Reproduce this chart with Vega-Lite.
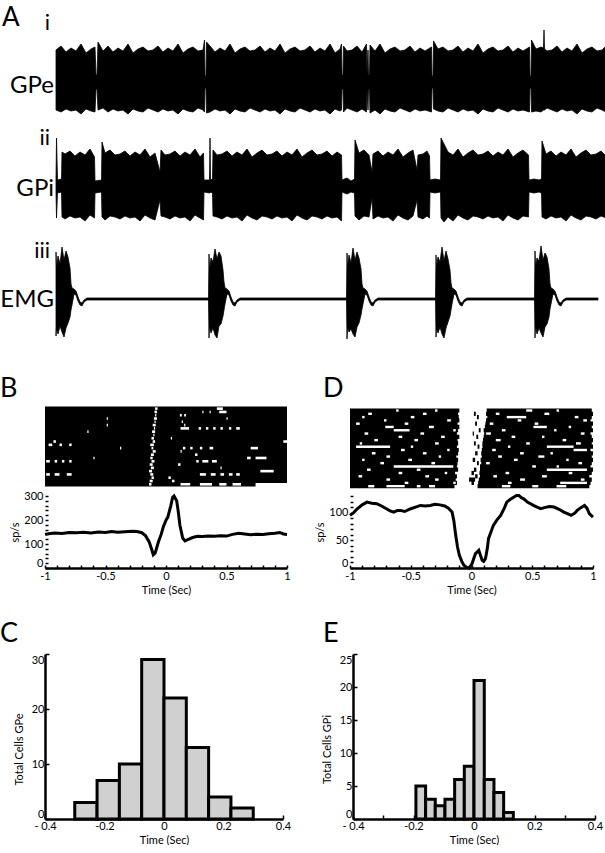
{
"$schema":"https://vega.github.io/schema/vega-lite/v6.json",
"padding":0,
"background":"white",
"config":{"view":{"stroke":null},"font":"Lato",
"axis":{"domainColor":"black","domainWidth":2.5,"tickColor":"black","tickWidth":1.5,"tickSize":-4,"labelPadding":5,"labelFont":"Lato","labelFontSize":11,"labelColor":"black","titleFont":"Lato","titleFontSize":11,"titleFontWeight":"normal","titleColor":"black","titlePadding":3,"grid":false,"labelOverlap":false,"labelFlush":false,"labelBound":false},
"title":{"font":"Lato","fontSize":27,"fontWeight":"normal","color":"black","anchor":"start","frame":"group","baseline":"alphabetic"}},
"datasets":{
"gpe":[{"t":1,"h":300,"l":240},{"t":6,"h":304,"l":238},{"t":11,"h":298,"l":241},{"t":16,"h":302,"l":239},{"t":21,"h":299,"l":240},{"t":26,"h":306,"l":236},{"t":31,"h":297,"l":241},{"t":36,"h":301,"l":239},{"t":40,"h":303,"l":238},{"t":41,"h":275,"l":261},{"t":42,"h":275,"l":261},{"t":43,"h":308,"l":240},{"t":48,"h":299,"l":242},{"t":53,"h":304,"l":238},{"t":58,"h":298,"l":241},{"t":63,"h":302,"l":239},{"t":68,"h":299,"l":240},{"t":73,"h":306,"l":236},{"t":78,"h":297,"l":241},{"t":83,"h":301,"l":239},{"t":88,"h":303,"l":238},{"t":93,"h":299,"l":242},{"t":98,"h":300,"l":240},{"t":103,"h":304,"l":238},{"t":108,"h":298,"l":241},{"t":113,"h":302,"l":239},{"t":118,"h":299,"l":240},{"t":123,"h":306,"l":236},{"t":128,"h":297,"l":241},{"t":133,"h":301,"l":239},{"t":138,"h":303,"l":238},{"t":143,"h":299,"l":242},{"t":148,"h":300,"l":240},{"t":149.5,"h":310,"l":238},{"t":150,"h":274,"l":262},{"t":151,"h":274,"l":262},{"t":151.5,"h":308,"l":237},{"t":155,"h":304,"l":238},{"t":160,"h":298,"l":241},{"t":165,"h":302,"l":239},{"t":170,"h":299,"l":240},{"t":175,"h":306,"l":236},{"t":180,"h":297,"l":241},{"t":185,"h":301,"l":239},{"t":190,"h":303,"l":238},{"t":195,"h":299,"l":242},{"t":200,"h":300,"l":240},{"t":205,"h":304,"l":238},{"t":210,"h":298,"l":241},{"t":215,"h":302,"l":239},{"t":220,"h":299,"l":240},{"t":225,"h":306,"l":236},{"t":230,"h":297,"l":241},{"t":235,"h":301,"l":239},{"t":240,"h":303,"l":238},{"t":245,"h":299,"l":242},{"t":250,"h":300,"l":240},{"t":255,"h":304,"l":238},{"t":260,"h":298,"l":241},{"t":265,"h":302,"l":239},{"t":270,"h":299,"l":240},{"t":275,"h":306,"l":236},{"t":280,"h":297,"l":241},{"t":285,"h":301,"l":239},{"t":286.5,"h":306,"l":240},{"t":287,"h":275,"l":261},{"t":288,"h":275,"l":261},{"t":288.5,"h":304,"l":238},{"t":292,"h":299,"l":242},{"t":297,"h":300,"l":240},{"t":302,"h":304,"l":238},{"t":307,"h":298,"l":241},{"t":311.5,"h":306,"l":238},{"t":312,"h":275,"l":261},{"t":313,"h":300,"l":240},{"t":313.5,"h":275,"l":261},{"t":314.5,"h":275,"l":261},{"t":315,"h":305,"l":237},{"t":320,"h":299,"l":240},{"t":325,"h":306,"l":236},{"t":330,"h":297,"l":241},{"t":335,"h":301,"l":239},{"t":340,"h":303,"l":238},{"t":345,"h":299,"l":242},{"t":350,"h":300,"l":240},{"t":355,"h":304,"l":238},{"t":360,"h":298,"l":241},{"t":365,"h":302,"l":239},{"t":370,"h":299,"l":240},{"t":376.5,"h":303,"l":238},{"t":377,"h":274,"l":262},{"t":378,"h":274,"l":262},{"t":378.5,"h":309,"l":241},{"t":383,"h":301,"l":239},{"t":388,"h":303,"l":238},{"t":393,"h":299,"l":242},{"t":398,"h":300,"l":240},{"t":403,"h":304,"l":238},{"t":408,"h":298,"l":241},{"t":413,"h":302,"l":239},{"t":418,"h":299,"l":240},{"t":423,"h":306,"l":236},{"t":428,"h":297,"l":241},{"t":433,"h":301,"l":239},{"t":438,"h":303,"l":238},{"t":443,"h":299,"l":242},{"t":448,"h":300,"l":240},{"t":453,"h":304,"l":238},{"t":458,"h":298,"l":241},{"t":463,"h":302,"l":239},{"t":468,"h":299,"l":240},{"t":474.5,"h":303,"l":238},{"t":475,"h":274,"l":262},{"t":476,"h":274,"l":262},{"t":476.5,"h":310,"l":238},{"t":481,"h":301,"l":239},{"t":486,"h":303,"l":238},{"t":488.5,"h":302,"l":240},{"t":489,"h":320,"l":240},{"t":489.5,"h":301,"l":240},{"t":492,"h":299,"l":242},{"t":497,"h":300,"l":240},{"t":502,"h":304,"l":238},{"t":507,"h":298,"l":241},{"t":512,"h":302,"l":239},{"t":517,"h":299,"l":240},{"t":522,"h":306,"l":236},{"t":527,"h":297,"l":241},{"t":532,"h":301,"l":239},{"t":537,"h":303,"l":238},{"t":542,"h":299,"l":242},{"t":547,"h":300,"l":240},{"t":551,"h":304,"l":238}],
"gpi":[{"t":1,"h":170,"l":158},{"t":1.5,"h":212,"l":132},{"t":2.5,"h":170,"l":157},{"t":6.5,"h":171,"l":158},{"t":7,"h":198,"l":133},{"t":10,"h":196,"l":131},{"t":15,"h":199,"l":134},{"t":20,"h":194,"l":132},{"t":25,"h":198,"l":133},{"t":30,"h":195,"l":129},{"t":35,"h":201,"l":135},{"t":39.5,"h":193,"l":132},{"t":40,"h":169,"l":157},{"t":46.5,"h":170,"l":158},{"t":47,"h":208,"l":133},{"t":50,"h":197,"l":130},{"t":55,"h":200,"l":134},{"t":60,"h":195,"l":133},{"t":65,"h":196,"l":131},{"t":70,"h":199,"l":134},{"t":75,"h":194,"l":132},{"t":80,"h":198,"l":133},{"t":85,"h":195,"l":129},{"t":90,"h":201,"l":135},{"t":95,"h":193,"l":132},{"t":100,"h":197,"l":130},{"t":105,"h":178,"l":150},{"t":106,"h":200,"l":134},{"t":110,"h":195,"l":133},{"t":115,"h":196,"l":131},{"t":120,"h":199,"l":134},{"t":125,"h":194,"l":132},{"t":130,"h":198,"l":133},{"t":135,"h":195,"l":129},{"t":140,"h":201,"l":135},{"t":145,"h":193,"l":132},{"t":148.5,"h":197,"l":130},{"t":149,"h":170,"l":158},{"t":154.5,"h":170,"l":157},{"t":155,"h":212,"l":157},{"t":155.5,"h":170,"l":158},{"t":157.5,"h":171,"l":157},{"t":158,"h":200,"l":134},{"t":162,"h":195,"l":133},{"t":167,"h":196,"l":131},{"t":172,"h":199,"l":134},{"t":177,"h":194,"l":132},{"t":182,"h":198,"l":133},{"t":187,"h":195,"l":129},{"t":192,"h":201,"l":135},{"t":197,"h":193,"l":132},{"t":202,"h":197,"l":130},{"t":207,"h":200,"l":134},{"t":212,"h":195,"l":133},{"t":217,"h":196,"l":131},{"t":222,"h":199,"l":134},{"t":227,"h":194,"l":132},{"t":232,"h":198,"l":133},{"t":237,"h":195,"l":129},{"t":242,"h":201,"l":135},{"t":247,"h":193,"l":132},{"t":252,"h":197,"l":130},{"t":257,"h":200,"l":134},{"t":262,"h":195,"l":133},{"t":267,"h":196,"l":131},{"t":272,"h":199,"l":134},{"t":277,"h":194,"l":132},{"t":282,"h":198,"l":133},{"t":286.5,"h":195,"l":129},{"t":287,"h":170,"l":158},{"t":292,"h":172,"l":156},{"t":296,"h":169,"l":158},{"t":299.5,"h":171,"l":157},{"t":300,"h":210,"l":134},{"t":304,"h":197,"l":130},{"t":309,"h":200,"l":134},{"t":314,"h":195,"l":133},{"t":317,"h":178,"l":152},{"t":318,"h":196,"l":131},{"t":323,"h":199,"l":134},{"t":328,"h":194,"l":132},{"t":333,"h":198,"l":133},{"t":338,"h":195,"l":129},{"t":343,"h":201,"l":135},{"t":348,"h":193,"l":132},{"t":353,"h":197,"l":130},{"t":358,"h":200,"l":134},{"t":362,"h":180,"l":150},{"t":363,"h":195,"l":133},{"t":368,"h":196,"l":131},{"t":372,"h":199,"l":134},{"t":374.5,"h":194,"l":132},{"t":375,"h":170,"l":158},{"t":380,"h":171,"l":157},{"t":385.5,"h":170,"l":158},{"t":386,"h":212,"l":132},{"t":389,"h":206,"l":128},{"t":393,"h":198,"l":133},{"t":398,"h":195,"l":129},{"t":403,"h":201,"l":135},{"t":408,"h":193,"l":132},{"t":413,"h":197,"l":130},{"t":418,"h":200,"l":134},{"t":423,"h":195,"l":133},{"t":428,"h":196,"l":131},{"t":433,"h":199,"l":134},{"t":438,"h":194,"l":132},{"t":443,"h":198,"l":133},{"t":448,"h":195,"l":129},{"t":453,"h":201,"l":135},{"t":458,"h":193,"l":132},{"t":463,"h":197,"l":130},{"t":468,"h":200,"l":134},{"t":473.5,"h":195,"l":133},{"t":474,"h":170,"l":158},{"t":479,"h":171,"l":157},{"t":484,"h":170,"l":158},{"t":486.5,"h":171,"l":157},{"t":487,"h":209,"l":133},{"t":491,"h":196,"l":131},{"t":496,"h":199,"l":134},{"t":501,"h":194,"l":132},{"t":506,"h":198,"l":133},{"t":511,"h":195,"l":129},{"t":516,"h":201,"l":135},{"t":521,"h":193,"l":132},{"t":526,"h":197,"l":130},{"t":531,"h":200,"l":134},{"t":536,"h":195,"l":133},{"t":541,"h":196,"l":131},{"t":546,"h":199,"l":134},{"t":551,"h":194,"l":132}],
"emg":[{"t":1,"h":98,"l":14},{"t":1.5,"h":82,"l":22},{"t":3,"h":94,"l":16},{"t":5,"h":86,"l":24},{"t":7,"h":103,"l":18},{"t":9,"h":90,"l":13},{"t":11,"h":99,"l":22},{"t":13,"h":93,"l":27},{"t":15,"h":82,"l":33},{"t":16,"h":66,"l":40},{"t":17,"h":62,"l":45},{"t":19,"h":61,"l":56},{"t":21,"h":59,"l":55},{"t":23,"h":53,"l":49},{"t":25,"h":48,"l":45},{"t":27,"h":47,"l":44},{"t":29,"h":50,"l":48},{"t":32,"h":52,"l":50},{"t":90,"h":52,"l":50},{"t":153.5,"h":52,"l":50},{"t":154,"h":96,"l":12},{"t":154.5,"h":80,"l":24},{"t":156,"h":92,"l":17},{"t":158,"h":88,"l":22},{"t":160,"h":101,"l":15},{"t":162,"h":91,"l":12},{"t":164,"h":98,"l":24},{"t":166,"h":94,"l":26},{"t":168,"h":80,"l":34},{"t":169,"h":68,"l":40},{"t":170,"h":62,"l":46},{"t":172,"h":61,"l":56},{"t":174,"h":59,"l":55},{"t":176,"h":53,"l":49},{"t":178,"h":48,"l":45},{"t":180,"h":47,"l":44},{"t":182,"h":50,"l":48},{"t":185,"h":52,"l":50},{"t":240,"h":52,"l":50},{"t":291.5,"h":52,"l":50},{"t":292,"h":97,"l":11},{"t":292.5,"h":82,"l":23},{"t":294,"h":95,"l":18},{"t":296,"h":87,"l":21},{"t":298,"h":102,"l":16},{"t":300,"h":90,"l":13},{"t":302,"h":98,"l":23},{"t":304,"h":92,"l":27},{"t":306,"h":81,"l":35},{"t":307,"h":66,"l":41},{"t":308,"h":62,"l":46},{"t":310,"h":61,"l":56},{"t":312,"h":59,"l":55},{"t":314,"h":53,"l":49},{"t":316,"h":48,"l":45},{"t":318,"h":47,"l":44},{"t":320,"h":50,"l":48},{"t":323,"h":52,"l":50},{"t":380.5,"h":52,"l":50},{"t":381,"h":95,"l":13},{"t":381.5,"h":83,"l":22},{"t":383,"h":93,"l":17},{"t":385,"h":88,"l":23},{"t":387,"h":103,"l":16},{"t":389,"h":89,"l":12},{"t":391,"h":99,"l":22},{"t":393,"h":91,"l":28},{"t":395,"h":80,"l":34},{"t":396,"h":67,"l":40},{"t":397,"h":62,"l":46},{"t":399,"h":61,"l":56},{"t":401,"h":59,"l":55},{"t":403,"h":53,"l":49},{"t":405,"h":48,"l":45},{"t":407,"h":47,"l":44},{"t":409,"h":50,"l":48},{"t":412,"h":52,"l":50},{"t":479.5,"h":52,"l":50},{"t":480,"h":99,"l":12},{"t":480.5,"h":84,"l":24},{"t":482,"h":92,"l":16},{"t":484,"h":89,"l":22},{"t":486,"h":104,"l":17},{"t":488,"h":90,"l":13},{"t":490,"h":97,"l":23},{"t":492,"h":93,"l":26},{"t":494,"h":81,"l":33},{"t":495,"h":66,"l":41},{"t":496,"h":62,"l":46},{"t":498,"h":61,"l":56},{"t":500,"h":59,"l":55},{"t":502,"h":53,"l":49},{"t":504,"h":48,"l":45},{"t":506,"h":47,"l":44},{"t":508,"h":50,"l":48},{"t":511,"h":52,"l":50},{"t":543,"h":52,"l":50}],
"rastB":[{"trial":1,"t":-1,"t2":1},{"trial":2,"t":-1,"t2":1},{"trial":3,"t":-1,"t2":1},{"trial":4,"t":-1,"t2":1},{"trial":5,"t":-1,"t2":1},{"trial":6,"t":-1,"t2":1},{"trial":7,"t":-1,"t2":1},{"trial":8,"t":-1,"t2":1},{"trial":9,"t":-1,"t2":1},{"trial":10,"t":-1,"t2":1},{"trial":11,"t":-1,"t2":1},{"trial":12,"t":-1,"t2":1},{"trial":13,"t":-1,"t2":1},{"trial":14,"t":-1,"t2":1},{"trial":15,"t":-1,"t2":1},{"trial":16,"t":-1,"t2":1},{"trial":17,"t":-1,"t2":1},{"trial":18,"t":-1,"t2":1},{"trial":19,"t":-1,"t2":1},{"trial":20,"t":-1,"t2":1},{"trial":21,"t":-1,"t2":1},{"trial":22,"t":-1,"t2":1},{"trial":23,"t":-1,"t2":1},{"trial":24,"t":-1,"t2":0.74}],
"gapB":[{"trial":1,"t":-0.09,"t2":-0.07},{"trial":2,"t":-0.095,"t2":-0.075},{"trial":3,"t":-0.09,"t2":-0.08},{"trial":4,"t":-0.1,"t2":-0.075},{"trial":5,"t":-0.095,"t2":-0.085},{"trial":6,"t":-0.11,"t2":-0.085},{"trial":7,"t":-0.1,"t2":-0.09},{"trial":8,"t":-0.115,"t2":-0.09},{"trial":9,"t":-0.105,"t2":-0.095},{"trial":10,"t":-0.12,"t2":-0.1},{"trial":11,"t":-0.11,"t2":-0.09},{"trial":12,"t":-0.13,"t2":-0.1},{"trial":13,"t":-0.12,"t2":-0.105},{"trial":14,"t":-0.11,"t2":-0.085},{"trial":15,"t":-0.125,"t2":-0.1},{"trial":16,"t":-0.13,"t2":-0.11},{"trial":17,"t":-0.12,"t2":-0.095},{"trial":18,"t":-0.135,"t2":-0.11},{"trial":19,"t":-0.125,"t2":-0.1},{"trial":20,"t":-0.14,"t2":-0.115},{"trial":21,"t":-0.13,"t2":-0.105},{"trial":22,"t":-0.12,"t2":-0.1},{"trial":23,"t":-0.135,"t2":-0.11},{"trial":24,"t":-0.14,"t2":-0.12},{"trial":1,"t":0.42,"t2":0.47},{"trial":2,"t":0.3,"t2":0.31},{"trial":2,"t":0.36,"t2":0.37},{"trial":2,"t":0.44,"t2":0.5},{"trial":3,"t":0.115,"t2":0.13},{"trial":3,"t":0.15,"t2":0.165},{"trial":4,"t":-0.49,"t2":-0.48},{"trial":4,"t":0.5,"t2":0.51},{"trial":5,"t":0.13,"t2":0.14},{"trial":6,"t":-0.49,"t2":-0.48},{"trial":6,"t":0.15,"t2":0.16},{"trial":7,"t":0.12,"t2":0.19},{"trial":7,"t":0.27,"t2":0.29},{"trial":7,"t":0.33,"t2":0.35},{"trial":7,"t":0.39,"t2":0.41},{"trial":7,"t":0.45,"t2":0.47},{"trial":7,"t":0.52,"t2":0.54},{"trial":7,"t":0.58,"t2":0.61},{"trial":8,"t":-0.65,"t2":-0.64},{"trial":10,"t":0.04,"t2":0.05},{"trial":11,"t":0.97,"t2":1},{"trial":11,"t":-0.93,"t2":-0.91},{"trial":12,"t":-0.97,"t2":-0.94},{"trial":12,"t":-0.88,"t2":-0.86},{"trial":12,"t":-0.8,"t2":-0.78},{"trial":13,"t":0.14,"t2":0.16},{"trial":13,"t":0.2,"t2":0.22},{"trial":13,"t":0.28,"t2":0.3},{"trial":13,"t":0.36,"t2":0.39},{"trial":13,"t":0.7,"t2":0.76},{"trial":13,"t":-0.38,"t2":-0.37},{"trial":14,"t":0.12,"t2":0.13},{"trial":15,"t":0.24,"t2":0.26},{"trial":16,"t":0.67,"t2":0.7},{"trial":16,"t":0.74,"t2":0.83},{"trial":16,"t":-0.6,"t2":-0.59},{"trial":17,"t":-0.99,"t2":-0.96},{"trial":17,"t":-0.92,"t2":-0.9},{"trial":17,"t":-0.86,"t2":-0.84},{"trial":17,"t":-0.8,"t2":-0.78},{"trial":17,"t":0.25,"t2":0.27},{"trial":17,"t":0.3,"t2":0.35},{"trial":17,"t":0.38,"t2":0.42},{"trial":18,"t":0.1,"t2":0.12},{"trial":19,"t":0.45,"t2":0.46},{"trial":20,"t":0.78,"t2":0.89},{"trial":21,"t":-0.99,"t2":-0.96},{"trial":21,"t":-0.92,"t2":-0.88},{"trial":21,"t":-0.82,"t2":-0.78},{"trial":21,"t":0.28,"t2":0.33},{"trial":21,"t":0.37,"t2":0.41},{"trial":21,"t":0.45,"t2":0.48},{"trial":21,"t":0.52,"t2":0.55},{"trial":21,"t":0.58,"t2":0.61},{"trial":22,"t":0.02,"t2":0.04},{"trial":23,"t":0.05,"t2":0.07},{"trial":24,"t":0.12,"t2":0.2},{"trial":24,"t":0.28,"t2":0.38},{"trial":24,"t":0.44,"t2":0.5},{"trial":24,"t":0.55,"t2":0.62}],
"psthB":[{"t":-1,"r":140},{"t":-0.97,"r":143},{"t":-0.92,"r":146},{"t":-0.86,"r":144},{"t":-0.8,"r":148},{"t":-0.74,"r":147},{"t":-0.68,"r":149},{"t":-0.62,"r":146},{"t":-0.56,"r":150},{"t":-0.5,"r":148},{"t":-0.45,"r":152},{"t":-0.4,"r":149},{"t":-0.34,"r":151},{"t":-0.28,"r":153},{"t":-0.24,"r":152},{"t":-0.2,"r":147},{"t":-0.17,"r":135},{"t":-0.14,"r":110},{"t":-0.12,"r":80},{"t":-0.105,"r":55},{"t":-0.09,"r":62},{"t":-0.063,"r":108},{"t":-0.04,"r":140},{"t":-0.022,"r":172},{"t":0,"r":199},{"t":0.015,"r":212},{"t":0.04,"r":260},{"t":0.055,"r":295},{"t":0.066,"r":300},{"t":0.088,"r":280},{"t":0.1,"r":240},{"t":0.115,"r":178},{"t":0.138,"r":125},{"t":0.157,"r":113},{"t":0.18,"r":118},{"t":0.22,"r":127},{"t":0.26,"r":132},{"t":0.3,"r":131},{"t":0.35,"r":133},{"t":0.4,"r":132},{"t":0.45,"r":134},{"t":0.5,"r":133},{"t":0.55,"r":140},{"t":0.6,"r":145},{"t":0.65,"r":142},{"t":0.7,"r":139},{"t":0.75,"r":141},{"t":0.8,"r":140},{"t":0.85,"r":143},{"t":0.9,"r":145},{"t":0.94,"r":148},{"t":0.97,"r":142},{"t":1,"r":140}],
"rastD":[{"trial":1,"t":-1,"t2":-0.1},{"trial":1,"t":0.125,"t2":0.99},{"trial":2,"t":-1,"t2":-0.11},{"trial":2,"t":0.12,"t2":1},{"trial":3,"t":-1,"t2":-0.105},{"trial":3,"t":0.13,"t2":0.99},{"trial":4,"t":-1,"t2":-0.1},{"trial":4,"t":0.12,"t2":0.98},{"trial":5,"t":-1,"t2":-0.115},{"trial":5,"t":0.115,"t2":1},{"trial":6,"t":-1,"t2":-0.1},{"trial":6,"t":0.11,"t2":0.99},{"trial":7,"t":-1,"t2":-0.11},{"trial":7,"t":0.1,"t2":1},{"trial":8,"t":-1,"t2":-0.12},{"trial":8,"t":0.105,"t2":0.98},{"trial":9,"t":-1,"t2":-0.1},{"trial":9,"t":0.1,"t2":0.99},{"trial":10,"t":-1,"t2":-0.115},{"trial":10,"t":0.095,"t2":1},{"trial":11,"t":-1,"t2":-0.11},{"trial":11,"t":0.09,"t2":0.99},{"trial":12,"t":-1,"t2":-0.12},{"trial":12,"t":0.09,"t2":1},{"trial":13,"t":-1,"t2":-0.105},{"trial":13,"t":0.085,"t2":0.98},{"trial":14,"t":-1,"t2":-0.11},{"trial":14,"t":0.08,"t2":1},{"trial":15,"t":-1,"t2":-0.125},{"trial":15,"t":0.085,"t2":0.99},{"trial":16,"t":-1,"t2":-0.11},{"trial":16,"t":0.075,"t2":1},{"trial":17,"t":-1,"t2":-0.115},{"trial":17,"t":0.08,"t2":0.99},{"trial":18,"t":-1,"t2":-0.12},{"trial":18,"t":0.07,"t2":0.98},{"trial":19,"t":-1,"t2":-0.11},{"trial":19,"t":0.07,"t2":1},{"trial":20,"t":-1,"t2":-0.135},{"trial":20,"t":0.065,"t2":0.99},{"trial":21,"t":-1,"t2":-0.12},{"trial":21,"t":0.07,"t2":0.97},{"trial":22,"t":-1,"t2":-0.13},{"trial":22,"t":0.06,"t2":0.99},{"trial":23,"t":-1,"t2":-0.12},{"trial":23,"t":0.055,"t2":0.98},{"trial":24,"t":-1,"t2":-0.14},{"trial":24,"t":0.05,"t2":0.97},{"trial":2,"t":0.02,"t2":0.035},{"trial":3,"t":0.045,"t2":0.06},{"trial":5,"t":0.03,"t2":0.045},{"trial":7,"t":0.06,"t2":0.075},{"trial":8,"t":0.01,"t2":0.02},{"trial":9,"t":0.04,"t2":0.055},{"trial":11,"t":0.02,"t2":0.035},{"trial":12,"t":0.05,"t2":0.065},{"trial":14,"t":0.03,"t2":0.05},{"trial":16,"t":0.01,"t2":0.03},{"trial":17,"t":0.045,"t2":0.06},{"trial":19,"t":0.02,"t2":0.04},{"trial":20,"t":0,"t2":0.02},{"trial":21,"t":0.03,"t2":0.05},{"trial":22,"t":-0.02,"t2":0.03},{"trial":23,"t":0,"t2":0.02}],
"gapD":[{"trial":1,"t":-0.62,"t2":-0.6},{"trial":1,"t":0.45,"t2":0.5},{"trial":1,"t":0.7,"t2":0.72},{"trial":1,"t":-0.3,"t2":-0.28},{"trial":2,"t":-0.85,"t2":-0.82},{"trial":2,"t":-0.4,"t2":-0.37},{"trial":2,"t":0.2,"t2":0.23},{"trial":2,"t":0.6,"t2":0.64},{"trial":3,"t":-0.5,"t2":-0.47},{"trial":3,"t":0.29,"t2":0.45},{"trial":3,"t":0.85,"t2":0.88},{"trial":3,"t":-0.9,"t2":-0.88},{"trial":4,"t":-0.72,"t2":-0.7},{"trial":4,"t":-0.2,"t2":-0.17},{"trial":4,"t":0.38,"t2":0.41},{"trial":4,"t":0.92,"t2":0.95},{"trial":5,"t":-0.95,"t2":-0.92},{"trial":5,"t":-0.55,"t2":-0.52},{"trial":5,"t":0.15,"t2":0.18},{"trial":5,"t":0.52,"t2":0.55},{"trial":6,"t":-0.71,"t2":-0.64},{"trial":6,"t":-0.35,"t2":-0.31},{"trial":6,"t":0.51,"t2":0.62},{"trial":6,"t":0.8,"t2":0.82},{"trial":7,"t":-0.64,"t2":-0.51},{"trial":7,"t":-0.15,"t2":-0.13},{"trial":7,"t":0.25,"t2":0.28},{"trial":7,"t":0.68,"t2":0.7},{"trial":8,"t":-0.88,"t2":-0.85},{"trial":8,"t":-0.42,"t2":-0.39},{"trial":8,"t":0.12,"t2":0.16},{"trial":8,"t":0.9,"t2":0.93},{"trial":9,"t":-0.6,"t2":-0.57},{"trial":9,"t":-0.25,"t2":-0.22},{"trial":9,"t":0.33,"t2":0.36},{"trial":9,"t":0.58,"t2":0.6},{"trial":10,"t":-0.8,"t2":-0.77},{"trial":10,"t":-0.47,"t2":-0.44},{"trial":10,"t":0.2,"t2":0.24},{"trial":10,"t":0.75,"t2":0.78},{"trial":11,"t":-0.92,"t2":-0.9},{"trial":11,"t":-0.3,"t2":-0.27},{"trial":11,"t":0.45,"t2":0.48},{"trial":11,"t":0.86,"t2":0.9},{"trial":12,"t":-0.95,"t2":-0.67},{"trial":12,"t":-0.5,"t2":-0.48},{"trial":12,"t":0.62,"t2":0.84},{"trial":12,"t":0.3,"t2":0.32},{"trial":13,"t":-0.58,"t2":-0.55},{"trial":13,"t":-0.2,"t2":-0.18},{"trial":13,"t":0.84,"t2":0.95},{"trial":13,"t":0.17,"t2":0.2},{"trial":14,"t":-0.82,"t2":-0.79},{"trial":14,"t":-0.4,"t2":-0.37},{"trial":14,"t":0.4,"t2":0.43},{"trial":14,"t":0.65,"t2":0.67},{"trial":15,"t":-0.7,"t2":-0.67},{"trial":15,"t":-0.27,"t2":-0.25},{"trial":15,"t":0.22,"t2":0.25},{"trial":15,"t":0.55,"t2":0.6},{"trial":16,"t":-0.9,"t2":-0.88},{"trial":16,"t":-0.52,"t2":-0.49},{"trial":16,"t":0.35,"t2":0.38},{"trial":16,"t":0.78,"t2":0.8},{"trial":17,"t":-0.75,"t2":-0.72},{"trial":17,"t":-0.33,"t2":-0.3},{"trial":17,"t":0.12,"t2":0.15},{"trial":17,"t":0.88,"t2":0.91},{"trial":18,"t":-0.64,"t2":-0.15},{"trial":18,"t":0.5,"t2":0.53},{"trial":18,"t":0.7,"t2":0.72},{"trial":19,"t":-0.86,"t2":-0.83},{"trial":19,"t":-0.45,"t2":-0.42},{"trial":19,"t":0.62,"t2":0.95},{"trial":20,"t":-0.6,"t2":-0.57},{"trial":20,"t":-0.22,"t2":-0.2},{"trial":20,"t":0.28,"t2":0.31},{"trial":20,"t":0.8,"t2":0.83},{"trial":21,"t":-0.93,"t2":-0.9},{"trial":21,"t":-0.38,"t2":-0.35},{"trial":21,"t":0.18,"t2":0.21},{"trial":21,"t":0.58,"t2":0.62},{"trial":22,"t":-0.7,"t2":-0.67},{"trial":22,"t":-0.3,"t2":-0.27},{"trial":22,"t":0.4,"t2":0.44},{"trial":22,"t":0.9,"t2":0.93},{"trial":23,"t":-0.55,"t2":-0.52},{"trial":23,"t":-0.15,"t2":-0.13},{"trial":23,"t":0.73,"t2":0.95},{"trial":23,"t":0.3,"t2":0.33},{"trial":24,"t":-0.85,"t2":-0.8},{"trial":24,"t":-0.7,"t2":-0.55},{"trial":24,"t":-0.45,"t2":-0.42},{"trial":24,"t":-0.35,"t2":-0.3},{"trial":24,"t":0.25,"t2":0.32},{"trial":24,"t":0.5,"t2":0.55},{"trial":24,"t":0.7,"t2":0.78}],
"psthD":[{"t":-1,"r":95},{"t":-0.97,"r":100},{"t":-0.94,"r":107},{"t":-0.9,"r":114},{"t":-0.86,"r":119},{"t":-0.82,"r":117},{"t":-0.78,"r":116},{"t":-0.74,"r":112},{"t":-0.7,"r":107},{"t":-0.67,"r":103},{"t":-0.64,"r":101},{"t":-0.61,"r":104},{"t":-0.585,"r":104},{"t":-0.55,"r":102},{"t":-0.5,"r":107},{"t":-0.46,"r":110},{"t":-0.42,"r":113},{"t":-0.38,"r":112},{"t":-0.34,"r":113},{"t":-0.3,"r":115},{"t":-0.26,"r":114},{"t":-0.22,"r":112},{"t":-0.19,"r":108},{"t":-0.16,"r":101},{"t":-0.145,"r":85},{"t":-0.13,"r":59},{"t":-0.115,"r":38},{"t":-0.1,"r":23},{"t":-0.08,"r":12},{"t":-0.063,"r":5},{"t":-0.04,"r":1},{"t":-0.02,"r":0},{"t":0.005,"r":8},{"t":0.02,"r":18},{"t":0.033,"r":26},{"t":0.06,"r":32},{"t":0.075,"r":22},{"t":0.088,"r":14},{"t":0.1,"r":12},{"t":0.115,"r":17},{"t":0.13,"r":35},{"t":0.14,"r":53},{"t":0.16,"r":65},{"t":0.18,"r":77},{"t":0.21,"r":87},{"t":0.24,"r":95},{"t":0.27,"r":108},{"t":0.29,"r":119},{"t":0.32,"r":124},{"t":0.35,"r":128},{"t":0.37,"r":131},{"t":0.39,"r":131},{"t":0.41,"r":127},{"t":0.43,"r":125},{"t":0.46,"r":119},{"t":0.51,"r":113},{"t":0.54,"r":110},{"t":0.57,"r":107},{"t":0.6,"r":109},{"t":0.64,"r":111},{"t":0.68,"r":110},{"t":0.72,"r":106},{"t":0.76,"r":101},{"t":0.79,"r":98},{"t":0.82,"r":95},{"t":0.85,"r":99},{"t":0.87,"r":104},{"t":0.9,"r":109},{"t":0.93,"r":113},{"t":0.95,"r":108},{"t":0.97,"r":98},{"t":1,"r":92}],
"histC":[{"a":-0.3,"b":-0.225,"n":3},{"a":-0.225,"b":-0.15,"n":7},{"a":-0.15,"b":-0.075,"n":10},{"a":-0.075,"b":0,"n":29},{"a":0,"b":0.075,"n":22},{"a":0.075,"b":0.15,"n":13},{"a":0.15,"b":0.225,"n":4},{"a":0.225,"b":0.3,"n":2}],
"histE":[{"a":-0.192,"b":-0.16,"n":5},{"a":-0.16,"b":-0.128,"n":3},{"a":-0.128,"b":-0.096,"n":2},{"a":-0.096,"b":-0.064,"n":3},{"a":-0.064,"b":-0.032,"n":6},{"a":-0.032,"b":0,"n":8},{"a":0,"b":0.034,"n":21},{"a":0.034,"b":0.066,"n":6},{"a":0.066,"b":0.098,"n":4},{"a":0.098,"b":0.13,"n":1}]
},
"bounds":"full",
"spacing":25,
"vconcat":[
{"width":560,"height":350,
"encoding":{"x":{"field":"t","type":"quantitative","scale":{"domain":[-10,550]},"axis":null},"y":{"field":"h","type":"quantitative","scale":{"domain":[0,350]},"axis":null}},
"layer":[
{"data":{"name":"gpe"},"mark":{"type":"area","color":"black","stroke":"black","strokeWidth":0.8,"clip":true},"encoding":{"y2":{"field":"l"}}},
{"data":{"name":"gpi"},"mark":{"type":"area","color":"black","stroke":"black","strokeWidth":0.8,"clip":true},"encoding":{"y2":{"field":"l"}}},
{"data":{"name":"emg"},"mark":{"type":"area","color":"black","stroke":"black","strokeWidth":0.8,"clip":true},"encoding":{"y2":{"field":"l"}}},
{"data":{"values":[{"lab":"A","t":-53,"h":324}]},"mark":{"type":"text","align":"left","baseline":"alphabetic","fontSize":26,"color":"black","font":"Lato"},"encoding":{"text":{"field":"lab"}}},
{"data":{"values":[{"lab":"i","t":-5,"h":320},{"lab":"ii","t":-5,"h":205},{"lab":"iii","t":-5,"h":92}]},"mark":{"type":"text","align":"right","baseline":"alphabetic","fontSize":22,"color":"black","font":"Lato"},"encoding":{"text":{"field":"lab"}}},
{"data":{"values":[{"lab":"GPe","t":-1,"h":257},{"lab":"GPi","t":-1,"h":154},{"lab":"EMG","t":-1,"h":43}]},"mark":{"type":"text","align":"right","baseline":"alphabetic","fontSize":24,"color":"black","font":"Lato"},"encoding":{"text":{"field":"lab"}}}
]},
{"bounds":"flush","spacing":63,"hconcat":[
{"width":242,"height":166,"title":{"text":"B","dx":-45,"offset":-1},
"encoding":{"x":{"field":"t","type":"quantitative","scale":{"domain":[-1,1]},"axis":{"values":[-1,-0.9,-0.8,-0.7,-0.6,-0.5,-0.4,-0.3,-0.2,-0.1,0,0.1,0.2,0.3,0.4,0.5,0.6,0.7,0.8,0.9,1],"labelExpr":"datum.value == -1 ? '-1' : datum.value == -0.5 ? '-0.5' : datum.value == 0 ? '0' : datum.value == 0.5 ? '0.5' : datum.value == 1 ? '1' : ''","title":"Time (Sec)","tickSize":-3}}},
"layer":[
{"data":{"name":"rastB"},"mark":{"type":"bar","color":"black","size":4.2},"encoding":{"x2":{"field":"t2"},"y":{"field":"trial","type":"quantitative","scale":{"domain":[0.5,47.93],"reverse":true},"axis":null}}},
{"data":{"name":"gapB"},"mark":{"type":"bar","color":"white","size":2.6},"encoding":{"x2":{"field":"t2"},"y":{"field":"trial","type":"quantitative","scale":{"domain":[0.5,47.93],"reverse":true},"axis":null}}},
{"data":{"name":"psthB"},"mark":{"type":"line","color":"black","strokeWidth":3},"encoding":{"y":{"field":"r","type":"quantitative","scale":{"domain":[0,691.67]},"axis":{"orient":"left","domain":false,"labelFlush":true,"values":[0,20,40,60,80,100,120,140,160,180,200,220,240,260,280,300],"labelExpr":"datum.value % 100 == 0 ? datum.label : ''","title":"sp/s","titleY":130,"tickSize":-3}}}},
{"data":{"values":[{}]},"mark":{"type":"rule","color":"black","strokeWidth":2.5},"encoding":{"x":{"datum":-1},"y":{"datum":0,"scale":{"domain":[0,691.67]},"axis":null},"y2":{"datum":300}}},
{"data":{"values":[{}]},"mark":{"type":"rule","color":"#d9362e","strokeDash":[7,4],"strokeWidth":2},"encoding":{"x":{"datum":0}}}
],
"resolve":{"scale":{"y":"independent"},"axis":{"y":"independent"}}},
{"width":243,"height":166,"title":{"text":"D","dx":-27,"offset":-1},
"encoding":{"x":{"field":"t","type":"quantitative","scale":{"domain":[-1,1]},"axis":{"values":[-1,-0.9,-0.8,-0.7,-0.6,-0.5,-0.4,-0.3,-0.2,-0.1,0,0.1,0.2,0.3,0.4,0.5,0.6,0.7,0.8,0.9,1],"labelExpr":"datum.value == -1 ? '-1' : datum.value == -0.5 ? '-0.5' : datum.value == 0 ? '0' : datum.value == 0.5 ? '0.5' : datum.value == 1 ? '1' : ''","title":"Time (Sec)","tickSize":-3}}},
"layer":[
{"data":{"name":"rastD"},"mark":{"type":"bar","color":"black","size":4.2},"encoding":{"x2":{"field":"t2"},"y":{"field":"trial","type":"quantitative","scale":{"domain":[-0.071,47.36],"reverse":true},"axis":null}}},
{"data":{"name":"gapD"},"mark":{"type":"bar","color":"white","size":2.4},"encoding":{"x2":{"field":"t2"},"y":{"field":"trial","type":"quantitative","scale":{"domain":[-0.071,47.36],"reverse":true},"axis":null}}},
{"data":{"name":"psthD"},"mark":{"type":"line","color":"black","strokeWidth":3},"encoding":{"y":{"field":"r","type":"quantitative","scale":{"domain":[0,299.72]},"axis":{"orient":"left","domain":false,"labelFlush":true,"values":[0,10,20,30,40,50,60,70,80,90,100,110,120,130],"labelExpr":"datum.value % 50 == 0 ? datum.label : ''","title":"sp/s","titleY":130,"tickSize":-3}}}},
{"data":{"values":[{}]},"mark":{"type":"rule","color":"black","strokeWidth":2.5},"encoding":{"x":{"datum":-1},"y":{"datum":0,"scale":{"domain":[0,299.72]},"axis":null},"y2":{"datum":132}}},
{"data":{"values":[{}]},"mark":{"type":"rule","color":"#d9362e","strokeDash":[7,4],"strokeWidth":2},"encoding":{"x":{"datum":0}}}
],
"resolve":{"scale":{"y":"independent"},"axis":{"y":"independent"}}}
]},
{"bounds":"flush","spacing":70,"hconcat":[
{"width":238,"height":165,"title":{"text":"C","dx":-45,"offset":5},
"data":{"name":"histC"},
"mark":{"type":"rect","fill":"#d0d0d0","stroke":"black","strokeWidth":3},
"encoding":{"x":{"field":"a","type":"quantitative","scale":{"domain":[-0.4,0.4]},"axis":{"values":[-0.4,-0.2,0,0.2,0.4],"labelExpr":"datum.value == -0.4 ? '- 0.4' : datum.value == -0.2 ? '-0.2' : datum.value == 0 ? '0' : datum.value == 0.2 ? '0.2' : datum.value == 0.4 ? '0.4' : ''","title":"Time (Sec)"}},
"x2":{"field":"b"},
"y":{"field":"n","type":"quantitative","scale":{"domain":[0,30]},"axis":{"values":[0,10,20,30],"labelFlush":true,"title":"Total Cells GPe","titleY":95,"titlePadding":7}},
"y2":{"datum":0}}},
{"width":242,"height":165,"title":{"text":"E","dx":-30,"offset":5},
"data":{"name":"histE"},
"mark":{"type":"rect","fill":"#d0d0d0","stroke":"black","strokeWidth":3},
"encoding":{"x":{"field":"a","type":"quantitative","scale":{"domain":[-0.4,0.4]},"axis":{"values":[-0.4,-0.3,-0.2,-0.1,0,0.1,0.2,0.3,0.4],"labelExpr":"datum.value == -0.4 ? '- 0.4' : datum.value == -0.2 ? '-0.2' : datum.value == 0 ? '0' : datum.value == 0.2 ? '0.2' : datum.value == 0.4 ? '0.4' : ''","title":"Time (Sec)"}},
"x2":{"field":"b"},
"y":{"field":"n","type":"quantitative","scale":{"domain":[0,25]},"axis":{"values":[0,5,10,15,20,25],"labelFlush":true,"title":"Total Cells GPi","titleY":95,"titlePadding":7}},
"y2":{"datum":0}}}
]}
]
}
